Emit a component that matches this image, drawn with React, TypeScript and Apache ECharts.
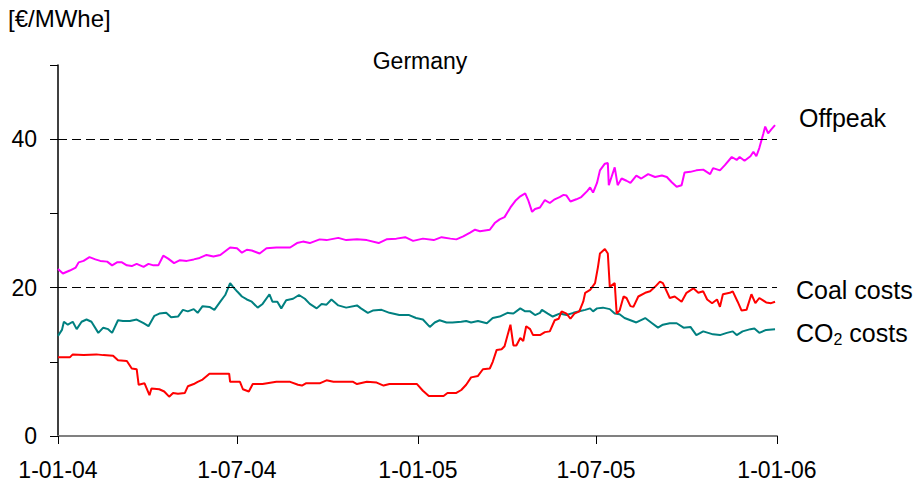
import React, { useEffect, useRef } from "react";
import * as echarts from "echarts";

const offpeak: [string, number][] = [
  ['2004-01-01',22.5],['2004-01-06',21.9],['2004-01-13',22.3],['2004-01-19',22.7],['2004-01-22',23.4],['2004-01-27',23.6],['2004-02-02',24.1],['2004-02-08',23.8],['2004-02-13',23.6],['2004-02-20',23.5],['2004-02-25',23.0],['2004-03-01',23.4],['2004-03-06',23.4],['2004-03-11',23.0],['2004-03-16',22.9],['2004-03-21',23.2],['2004-03-28',22.8],['2004-04-02',23.2],['2004-04-07',23.0],['2004-04-12',23.0],['2004-04-17',24.3],['2004-04-22',23.9],['2004-04-28',23.3],['2004-05-04',23.7],['2004-05-11',23.6],['2004-05-18',23.8],['2004-05-24',24.0],['2004-05-31',24.4],['2004-06-07',24.2],['2004-06-14',24.4],['2004-06-19',24.9],['2004-06-24',25.4],['2004-07-01',25.3],['2004-07-06',24.7],['2004-07-11',25.1],['2004-07-16',25.0],['2004-07-24',24.6],['2004-07-31',25.3],['2004-08-10',25.4],['2004-08-17',25.4],['2004-08-24',25.4],['2004-08-31',26.0],['2004-09-06',26.2],['2004-09-13',26.0],['2004-09-23',26.5],['2004-09-30',26.4],['2004-10-12',26.7],['2004-10-20',26.4],['2004-10-31',26.5],['2004-11-10',26.4],['2004-11-22',26.0],['2004-11-30',26.5],['2004-12-10',26.6],['2004-12-19',26.8],['2004-12-27',26.3],
  ['2005-01-06',26.6],['2005-01-17',26.4],['2005-01-25',26.8],['2005-02-03',26.6],['2005-02-09',26.5],['2005-02-16',26.9],['2005-02-23',27.4],['2005-02-28',27.8],['2005-03-05',27.6],['2005-03-10',27.7],['2005-03-15',27.8],['2005-03-20',28.7],['2005-03-25',29.2],['2005-03-30',29.5],['2005-04-05',30.8],['2005-04-10',31.7],['2005-04-15',32.3],['2005-04-20',32.7],['2005-04-23',31.8],['2005-04-27',30.2],['2005-04-30',30.6],['2005-05-05',30.8],['2005-05-10',31.8],['2005-05-15',31.4],['2005-05-20',31.9],['2005-05-25',32.2],['2005-05-29',32.5],['2005-06-01',32.4],['2005-06-05',31.6],['2005-06-11',31.9],['2005-06-16',32.2],['2005-06-22',33.0],['2005-06-25',33.5],['2005-06-28',32.8],['2005-07-02',34.1],['2005-07-05',35.8],['2005-07-10',36.7],['2005-07-13',36.8],['2005-07-14',33.8],['2005-07-17',35.0],['2005-07-20',36.2],['2005-07-23',33.8],['2005-07-27',34.7],['2005-08-01',34.4],['2005-08-05',34.1],['2005-08-11',35.1],['2005-08-16',34.7],['2005-08-23',35.3],['2005-08-30',34.9],['2005-09-06',35.1],['2005-09-11',34.9],['2005-09-16',34.2],['2005-09-21',33.6],['2005-09-26',33.8],['2005-09-29',35.5],['2005-10-05',35.6],['2005-10-11',35.8],['2005-10-18',35.9],['2005-10-25',35.3],['2005-10-28',36.1],['2005-11-04',35.8],['2005-11-09',36.5],['2005-11-16',37.6],['2005-11-21',37.2],['2005-11-24',37.6],['2005-11-29',37.1],['2005-12-05',37.7],['2005-12-08',38.3],['2005-12-11',37.7],['2005-12-14',38.8],['2005-12-18',40.7],['2005-12-20',41.7],['2005-12-23',40.8],['2005-12-26',41.3],['2005-12-30',41.9]
];

const coalCosts: [string, number][] = [
  ['2004-01-01',10.6],['2004-01-13',10.6],['2004-01-16',11.0],['2004-01-27',10.9],['2004-02-09',11.0],['2004-02-16',10.9],['2004-02-26',10.8],['2004-03-02',10.2],['2004-03-11',10.1],['2004-03-16',9.1],['2004-03-21',9.0],['2004-03-23',6.9],['2004-03-29',7.1],['2004-04-03',5.5],['2004-04-05',6.4],['2004-04-13',6.3],['2004-04-18',6.0],['2004-04-23',5.3],['2004-04-27',5.8],['2004-05-02',5.7],['2004-05-09',5.8],['2004-05-12',6.7],['2004-05-18',7.0],['2004-05-22',7.3],['2004-05-27',7.6],['2004-06-03',8.4],['2004-06-14',8.4],['2004-06-23',8.4],['2004-06-24',7.3],['2004-07-04',7.3],['2004-07-07',6.3],['2004-07-13',6.0],['2004-07-17',7.0],['2004-07-27',7.0],['2004-08-10',7.3],['2004-08-24',7.3],['2004-09-01',6.9],['2004-09-05',6.8],['2004-09-09',7.1],['2004-09-23',7.1],['2004-09-30',7.5],['2004-10-07',7.3],['2004-10-27',7.3],['2004-10-31',7.0],['2004-11-10',7.3],['2004-11-20',7.2],['2004-11-27',6.8],['2004-12-03',7.0],['2004-12-31',7.0],
  ['2005-01-06',6.1],['2005-01-12',5.4],['2005-01-27',5.4],['2005-01-31',5.8],['2005-02-09',5.8],['2005-02-14',6.2],['2005-02-19',6.9],['2005-02-24',7.9],['2005-03-03',8.1],['2005-03-08',9.0],['2005-03-15',9.1],['2005-03-18',10.0],['2005-03-22',11.6],['2005-03-27',11.7],['2005-03-30',12.1],['2005-04-05',15.0],['2005-04-08',12.2],['2005-04-11',12.2],['2005-04-15',13.2],['2005-04-18',12.8],['2005-04-21',14.8],['2005-04-25',14.4],['2005-04-28',13.6],['2005-05-05',13.6],['2005-05-10',14.0],['2005-05-15',14.1],['2005-05-20',15.6],['2005-05-24',15.8],['2005-05-27',16.8],['2005-06-01',16.5],['2005-06-05',15.8],['2005-06-09',16.5],['2005-06-14',16.8],['2005-06-18',18.1],['2005-06-20',19.3],['2005-06-25',19.7],['2005-06-30',20.6],['2005-07-03',22.8],['2005-07-05',24.6],['2005-07-10',25.2],['2005-07-13',24.6],['2005-07-15',20.1],['2005-07-20',20.6],['2005-07-22',16.5],['2005-07-25',16.9],['2005-07-29',18.8],['2005-08-01',18.6],['2005-08-05',17.5],['2005-08-08',17.4],['2005-08-13',18.8],['2005-08-20',19.3],['2005-08-25',19.5],['2005-08-30',20.1],['2005-09-04',20.8],['2005-09-07',20.6],['2005-09-14',18.6],['2005-09-19',18.8],['2005-09-26',18.1],['2005-10-01',19.3],['2005-10-08',19.9],['2005-10-13',19.3],['2005-10-18',19.5],['2005-10-22',18.4],['2005-10-27',17.9],['2005-11-01',18.4],['2005-11-04',17.4],['2005-11-07',19.1],['2005-11-14',19.3],['2005-11-17',19.5],['2005-11-22',18.1],['2005-11-26',16.9],['2005-12-01',17.0],['2005-12-06',19.1],['2005-12-10',17.9],['2005-12-14',18.6],['2005-12-21',18.0],['2005-12-26',17.9],['2005-12-30',18.1]
];

const co2Costs: [string, number][] = [
  ['2004-01-01',13.5],['2004-01-05',14.3],['2004-01-07',15.4],['2004-01-11',15.0],['2004-01-16',15.4],['2004-01-20',14.4],['2004-01-25',15.4],['2004-01-30',15.7],['2004-02-04',15.4],['2004-02-11',13.9],['2004-02-16',14.6],['2004-02-21',14.4],['2004-02-25',13.9],['2004-03-02',15.6],['2004-03-07',15.5],['2004-03-14',15.5],['2004-03-21',15.7],['2004-03-28',15.2],['2004-04-02',14.8],['2004-04-08',16.2],['2004-04-13',16.5],['2004-04-20',16.6],['2004-04-25',16.0],['2004-05-02',16.1],['2004-05-07',17.0],['2004-05-12',16.8],['2004-05-18',17.1],['2004-05-22',16.6],['2004-05-27',17.5],['2004-06-03',17.4],['2004-06-08',17.0],['2004-06-14',18.1],['2004-06-19',19.0],['2004-06-24',20.6],['2004-06-27',20.1],['2004-07-01',19.5],['2004-07-06',18.8],['2004-07-11',18.4],['2004-07-16',18.1],['2004-07-22',17.3],['2004-07-27',17.8],['2004-08-03',19.1],['2004-08-06',18.1],['2004-08-11',18.1],['2004-08-15',17.2],['2004-08-20',18.3],['2004-08-27',18.5],['2004-09-02',19.0],['2004-09-08',18.5],['2004-09-13',17.8],['2004-09-20',17.2],['2004-09-25',17.8],['2004-09-30',17.7],['2004-10-05',18.4],['2004-10-12',17.6],['2004-10-20',17.3],['2004-10-31',17.6],['2004-11-04',17.2],['2004-11-11',16.6],['2004-11-16',16.9],['2004-11-25',17.0],['2004-12-03',16.6],['2004-12-13',16.3],['2004-12-23',16.3],['2004-12-30',15.9],
  ['2005-01-06',15.7],['2005-01-13',14.7],['2005-01-18',15.3],['2005-01-23',15.6],['2005-01-30',15.3],['2005-02-05',15.3],['2005-02-14',15.4],['2005-02-19',15.5],['2005-02-24',15.3],['2005-03-03',15.5],['2005-03-12',15.2],['2005-03-18',15.9],['2005-03-25',16.1],['2005-04-02',16.6],['2005-04-08',16.5],['2005-04-15',17.2],['2005-04-20',16.8],['2005-04-25',16.8],['2005-04-30',16.3],['2005-05-05',16.6],['2005-05-07',17.0],['2005-05-13',16.5],['2005-05-18',16.1],['2005-05-25',16.5],['2005-06-01',16.3],['2005-06-08',16.6],['2005-06-14',16.8],['2005-06-20',17.0],['2005-06-25',17.2],['2005-06-28',16.8],['2005-07-02',17.2],['2005-07-08',17.3],['2005-07-15',17.1],['2005-07-20',16.5],['2005-07-25',16.4],['2005-07-30',15.9],['2005-08-05',15.6],['2005-08-11',15.3],['2005-08-20',15.9],['2005-08-27',15.2],['2005-09-02',14.6],['2005-09-07',15.0],['2005-09-14',15.2],['2005-09-21',15.2],['2005-09-28',14.6],['2005-10-05',14.7],['2005-10-11',13.6],['2005-10-18',14.1],['2005-10-28',13.7],['2005-11-04',13.6],['2005-11-11',13.9],['2005-11-17',14.1],['2005-11-21',13.6],['2005-11-27',14.1],['2005-12-05',14.4],['2005-12-09',14.5],['2005-12-14',13.9],['2005-12-21',14.3],['2005-12-30',14.4]
];

const xTickDates = ['2004-01-01', '2004-07-01', '2005-01-01', '2005-07-01', '2006-01-01'];
const yTickLabels = [0, 20, 40];
const refLines = [20, 40];

const FONT = "'Liberation Sans', Arial, sans-serif";

const toTs = (s: string) => {
  const [y, m, d] = s.split('-').map(Number);
  return new Date(y, m - 1, d).getTime();
};
const fmtDate = (v: number) => {
  const d = new Date(v);
  return `${d.getDate()}-${String(d.getMonth() + 1).padStart(2, '0')}-${String(d.getFullYear()).slice(2)}`;
};
const conv = (arr: [string, number][]) => arr.map(([d, v]) => [toTs(d), v]);

export default function App() {
  const ref = useRef<HTMLDivElement>(null);
  useEffect(() => {
    if (!ref.current) return;
    const chart = echarts.init(ref.current, null, { renderer: 'svg' });
    const ticks = xTickDates.map(toTs);
    chart.setOption({
      animation: false,
      backgroundColor: '#fff',
      textStyle: { fontFamily: FONT },
      grid: { left: 58, right: 137, top: 65, bottom: 47, containLabel: false },
      xAxis: {
        type: 'value',
        min: ticks[0],
        max: ticks[ticks.length - 1],
        axisLine: { show: true, lineStyle: { color: '#808080', width: 2 } },
        axisTick: { show: true, length: 8, lineStyle: { color: '#000', width: 1 }, customValues: ticks },
        axisLabel: {
          customValues: ticks,
          formatter: (v: number) => fmtDate(v),
          color: '#000', fontSize: 23, fontFamily: FONT, margin: 22, hideOverlap: false,
          showMinLabel: true, showMaxLabel: true,
        },
        splitLine: { show: false },
      },
      yAxis: {
        type: 'value', min: 0, max: 50, interval: 10,
        axisLine: { show: true, lineStyle: { color: '#000', width: 1.5 } },
        axisTick: { show: true, length: 8, lineStyle: { color: '#000', width: 1 } },
        axisLabel: {
          formatter: (v: number) => (yTickLabels.includes(v) ? String(v) : ''),
          color: '#000', fontSize: 23, fontFamily: FONT, margin: 21,
        },
        splitLine: { show: false },
      },
      series: [
        {
          name: 'Offpeak', type: 'line', data: conv(offpeak), showSymbol: false, symbol: 'none',
          lineStyle: { color: '#FF00FF', width: 2 }, z: 3,
          markLine: {
            silent: true, symbol: 'none', label: { show: false },
            lineStyle: { color: '#000', type: [9, 5], width: 1 },
            data: refLines.map((v) => ({ yAxis: v })),
          },
        },
        {
          name: 'CO2 costs', type: 'line', data: conv(co2Costs), showSymbol: false, symbol: 'none',
          lineStyle: { color: '#008080', width: 2 }, z: 3,
        },
        {
          name: 'Coal costs', type: 'line', data: conv(coalCosts), showSymbol: false, symbol: 'none',
          lineStyle: { color: '#FF0000', width: 2 }, z: 4,
        },
      ],
      graphic: [
        { type: 'text', x: 8, y: 18, style: { text: '[€/MWhe]', font: `24px ${FONT}`, fill: '#000', verticalAlign: 'middle' } },
        { type: 'text', x: 420, y: 61, style: { text: 'Germany', font: `23px ${FONT}`, fill: '#000', align: 'center', verticalAlign: 'middle' } },
        { type: 'text', x: 799, y: 118, style: { text: 'Offpeak', font: `25px ${FONT}`, fill: '#000', align: 'left', verticalAlign: 'middle' } },
        { type: 'text', x: 796, y: 290, style: { text: 'Coal costs', font: `25px ${FONT}`, fill: '#000', align: 'left', verticalAlign: 'middle' } },
        {
          type: 'text', x: 796, y: 333,
          style: {
            text: '{a|CO}{b|2}{a| costs}', align: 'left', verticalAlign: 'middle', fill: '#000',
            rich: {
              a: { fontSize: 25, fontFamily: FONT, fill: '#000', lineHeight: 28 },
              b: { fontSize: 16, fontFamily: FONT, fill: '#000', lineHeight: 12, verticalAlign: 'bottom' },
            },
          },
        },
      ],
    });
    return () => chart.dispose();
  }, []);
  return <div ref={ref} style={{ position: 'fixed', left: 0, top: 0, width: 914, height: 483, background: '#fff' }} />;
}
